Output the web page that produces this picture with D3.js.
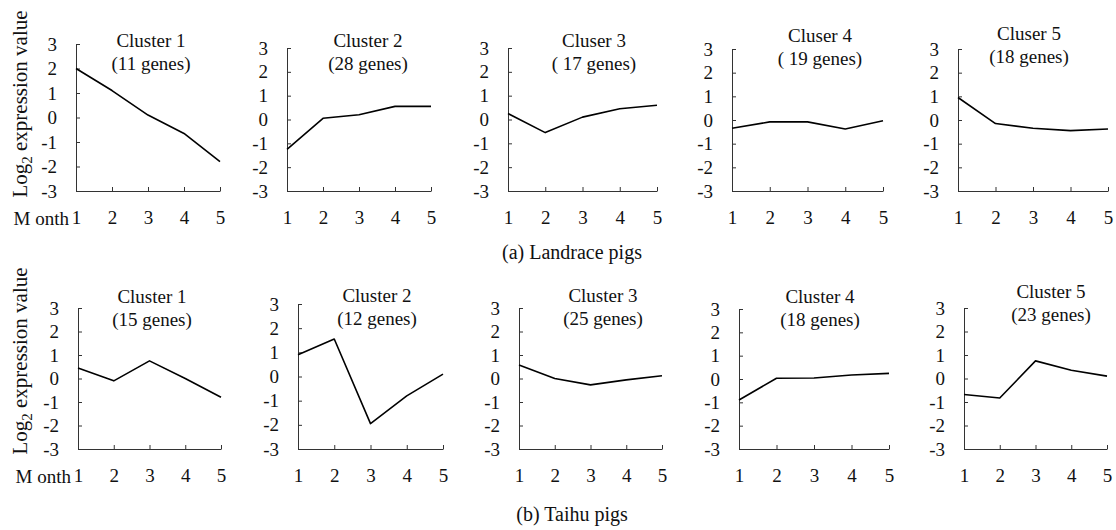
<!DOCTYPE html>
<html>
<head>
<meta charset="utf-8">
<script src="https://cdn.jsdelivr.net/npm/d3@7"></script>
<style>
    body { margin: 0; background: #fff; }
    svg { display: block; }
    svg text { font-family: "Liberation Serif", "Times New Roman", serif; }
</style>
</head>
<body>
<script>
// data
const months = [1, 2, 3, 4, 5];
const yTicks = [-3, -2, -1, 0, 1, 2, 3];

const landraceTitles = ["Cluster 1", "Cluster 2", "Cluser 3", "Cluser 4", "Cluser 5"];
const landraceGenes = ["(11 genes)", "(28 genes)", "( 17 genes)", "( 19 genes)", "(18 genes)"];
const landraceValues = [
    [2.0, 1.1, 0.1, -0.65, -1.8],
    [-1.25, 0.05, 0.2, 0.55, 0.55],
    [0.25, -0.55, 0.1, 0.45, 0.6],
    [-0.35, -0.08, -0.08, -0.38, -0.03],
    [0.95, -0.15, -0.35, -0.45, -0.38],
];

const taihuTitles = ["Cluster 1", "Cluster 2", "Cluster 3", "Cluster 4", "Cluster 5"];
const taihuGenes = ["(15 genes)", "(12 genes)", "(25 genes)", "(18 genes)", "(23 genes)"];
const taihuValues = [
    [0.45, -0.1, 0.75, 0.0, -0.8],
    [0.9, 1.55, -1.95, -0.8, 0.1],
    [0.57, 0.0, -0.27, -0.06, 0.12],
    [-0.9, 0.03, 0.04, 0.17, 0.24],
    [-0.68, -0.83, 0.75, 0.35, 0.1],
];

const captions = ["(a) Landrace pigs", "(b) Taihu pigs"];

// layout (pixels)
const rows = [
    {
        titles: landraceTitles, genes: landraceGenes, values: landraceValues, caption: captions[0],
        left: [76, 287, 508, 732, 958],
        right: [220, 431, 657, 883, 1108],
        top: [44, 48, 48, 49, 49],
        bottom: 191,
        titleX: [151, 368, 594, 820, 1029],
        titleY: [47, 47, 47, 42, 40],
        captionY: 259,
        yLabelCenter: 104,
    },
    {
        titles: taihuTitles, genes: taihuGenes, values: taihuValues, caption: captions[1],
        left: [78, 298, 519, 739, 964],
        right: [221, 443, 662, 889, 1107],
        top: [308, 304, 308, 309, 308],
        bottom: 449,
        titleX: [152, 377, 603, 820, 1051],
        titleY: [303, 302, 302, 303, 298],
        captionY: 521,
        yLabelCenter: 361,
    },
];

const svg = d3.select(document.body).append("svg")
    .attr("width", 1116)
    .attr("height", 530);

const ink = "#111";
const fmt = d => String(d);

rows.forEach(row => {
    // y axis label
    const yl = svg.append("text")
        .attr("transform", `translate(27,${row.yLabelCenter}) rotate(-90)`)
        .attr("text-anchor", "middle")
        .attr("font-size", 21)
        .attr("fill", ink);
    yl.append("tspan").text("Log");
    yl.append("tspan").text("2").attr("font-size", 15).attr("dy", 5);
    yl.append("tspan").text(" expression value").attr("dy", -5);

    // month label
    svg.append("text")
        .attr("x", row.left[0] - 7)
        .attr("y", row.bottom + 34)
        .attr("text-anchor", "end")
        .attr("font-size", 19)
        .attr("fill", ink)
        .text("M onth");

    row.values.forEach((vals, i) => {
        const x = d3.scaleLinear().domain([1, 5]).range([row.left[i], row.right[i]]);
        const y = d3.scaleLinear().domain([-3, 3]).range([row.bottom, row.top[i]]);

        const g = svg.append("g");

        g.append("g")
            .attr("transform", `translate(${row.left[i]},0)`)
            .call(d3.axisLeft(y).tickValues(yTicks).tickSizeInner(-4).tickSizeOuter(0).tickPadding(19).tickFormat(fmt))
            .attr("font-family", null)
            .attr("font-size", 19)
            .call(a => a.selectAll("text").attr("fill", ink))
            .call(a => a.selectAll("line,path").attr("stroke", "#333"));

        g.append("g")
            .attr("transform", `translate(0,${row.bottom})`)
            .call(d3.axisBottom(x).tickValues(months).tickSizeInner(-4).tickSizeOuter(0).tickPadding(20).tickFormat(fmt))
            .attr("font-family", null)
            .attr("font-size", 19)
            .call(a => a.selectAll("text").attr("fill", ink))
            .call(a => a.selectAll("line,path").attr("stroke", "#333"));

        g.append("path")
            .datum(vals)
            .attr("fill", "none")
            .attr("stroke", "#000")
            .attr("stroke-width", 1.6)
            .attr("stroke-linejoin", "round")
            .attr("d", d3.line().x((d, k) => x(months[k])).y(d => y(d)));

        g.append("text")
            .attr("x", row.titleX[i])
            .attr("y", row.titleY[i])
            .attr("text-anchor", "middle")
            .attr("font-size", 19)
            .attr("fill", ink)
            .text(row.titles[i]);

        g.append("text")
            .attr("x", row.titleX[i])
            .attr("y", row.titleY[i] + 23)
            .attr("text-anchor", "middle")
            .attr("font-size", 19)
            .attr("fill", ink)
            .text(row.genes[i]);
    });

    svg.append("text")
        .attr("x", 572)
        .attr("y", row.captionY)
        .attr("text-anchor", "middle")
        .attr("font-size", 20)
        .attr("fill", ink)
        .text(row.caption);
});
</script>
</body>
</html>
